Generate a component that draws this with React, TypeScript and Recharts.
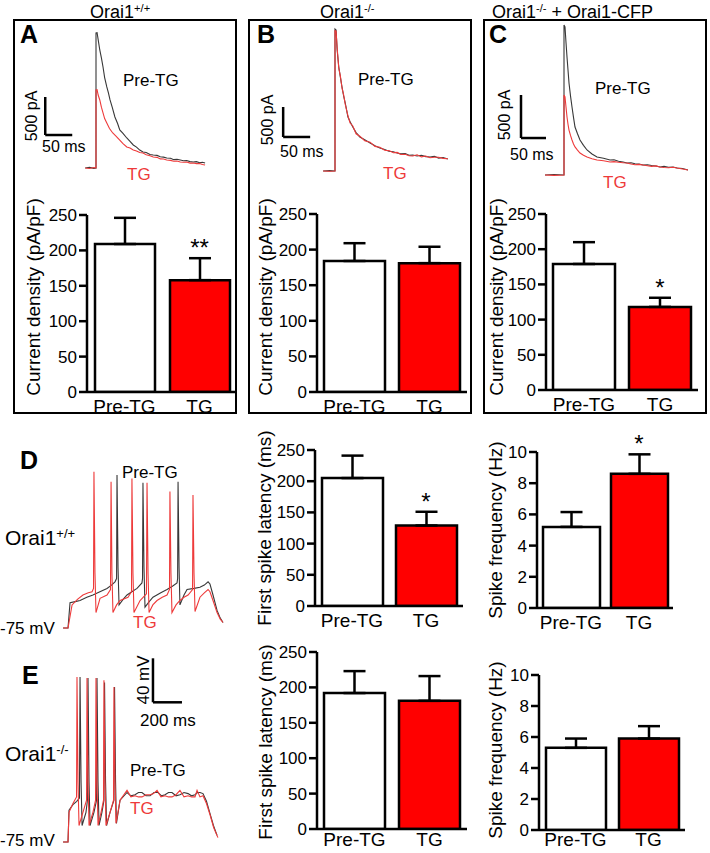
import React from 'react';
import {
  LineChart, Line, XAxis, YAxis, ReferenceLine,
  BarChart, Bar, ErrorBar, ReferenceDot, Cell,
} from 'recharts';

const FONT = 'Arial, "Liberation Sans", Helvetica, sans-serif';
const RED = '#ff0000';
const TRACE_RED = '#ee3a3a';
const TRACE_BLACK = '#383838';

// ---- bar data ----
const categories = ['Pre-TG', 'TG'];

const densityA = [209, 158];
const densityAErr = [37, 31];
const densityB = [184, 181];
const densityBErr = [25, 23];
const densityC = [179, 118];
const densityCErr = [31, 13];
const latencyD = [205, 129];
const latencyDErr = [36, 22];
const freqD = [5.2, 8.6];
const freqDErr = [0.95, 1.25];
const latencyE = [192, 181];
const latencyEErr = [31, 35];
const freqE = [5.3, 5.9];
const freqEErr = [0.6, 0.8];

const densityTicks = [0, 50, 100, 150, 200, 250];
const latencyTicks = [0, 50, 100, 150, 200, 250];
const freqTicks = [0, 2, 4, 6, 8, 10];

// ---- traces: [ms, pA] or [ms, mV] ----
type Pt = [number, number];

const traceAPre: Pt[] = [[-20,0],[-12,8],[-4,-5],[0,0],[0,1776],[2,1780],[4,1690],[7,1553],[10,1450],[13,1329],[16,1190],[20,1066],[23,990],[26,895],[30,800],[35,671],[40,585],[44,500],[50,455],[57,395],[63,350],[69,303],[75,275],[81,236],[87,211],[93,205],[100,178],[106,171],[113,166],[119,148],[125,143],[131,132],[138,128],[144,110],[150,114],[156,105],[162,96],[168,98],[174,84],[180,79],[186,84],[192,70],[197,76],[202,66]];
const traceATg: Pt[] = [[-20,0],[-12,-6],[-4,6],[0,0],[0,1026],[2,1030],[4,960],[7,895],[10,800],[13,724],[16,650],[20,592],[25,520],[31,461],[37,420],[44,368],[50,320],[57,276],[63,262],[69,237],[75,225],[81,203],[87,197],[93,175],[100,160],[106,145],[113,140],[119,120],[125,118],[131,105],[138,100],[144,88],[150,92],[156,79],[162,75],[168,78],[174,64],[180,66],[186,58],[192,60],[197,45],[202,40]];

const traceBPre: Pt[] = [[-22,0],[-10,7],[0,0],[0,2367],[2,2350],[4,2017],[7,1733],[10,1560],[13,1400],[16,1250],[19,1133],[24,900],[28,820],[33,733],[39,640],[46,567],[55,520],[65,467],[74,420],[83,383],[92,360],[100,330],[108,320],[115,300],[122,285],[130,290],[137,262],[144,267],[152,250],[160,262],[168,240],[176,233],[184,245],[192,215],[200,225],[209,200]];
const traceBTg: Pt[] = [[-22,0],[-10,-5],[0,0],[0,2340],[2,2330],[4,2050],[7,1710],[10,1580],[13,1380],[16,1270],[19,1110],[24,920],[28,800],[33,750],[39,620],[46,580],[55,505],[65,480],[74,410],[83,395],[92,345],[100,340],[108,305],[115,310],[122,275],[130,280],[137,255],[144,250],[152,270],[160,235],[168,250],[176,222],[184,230],[192,228],[200,210],[209,205]];

const traceCPre: Pt[] = [[-38,0],[-20,5],[0,0],[0,1744],[2,1721],[4,1540],[6,1372],[8,1220],[10,1070],[13,920],[16,791],[19,670],[22,558],[27,480],[32,407],[39,345],[46,291],[56,245],[66,209],[79,195],[92,174],[100,178],[109,160],[118,152],[126,140],[134,142],[142,130],[150,126],[158,116],[167,120],[175,110],[184,104],[192,93],[200,100],[209,90],[218,92],[226,81],[237,75],[248,58]];
const traceCTg: Pt[] = [[-38,0],[-20,-4],[0,0],[0,930],[2,907],[4,790],[6,674],[8,590],[10,523],[13,460],[16,407],[19,360],[22,326],[27,290],[32,256],[39,230],[46,209],[56,190],[66,174],[79,165],[92,151],[100,156],[109,148],[118,142],[126,140],[134,128],[142,120],[150,124],[158,116],[167,108],[175,100],[184,106],[192,93],[200,88],[209,85],[218,90],[226,81],[237,70],[248,58]];

const traceDPre: Pt[] = [[-34,-75],[0,-75],[14,-52],[50,-51],[83,-50],[130,-47],[172,-45],[220,-42],[269,-39],[300,-36],[324,-33],[335,-30],[338,64],[345,-20],[352,-54],[380,-49],[407,-45],[440,-42],[476,-39],[510,-34],[514,-30],[517,57],[524,-20],[531,-56],[560,-51],[586,-47],[640,-43],[683,-40],[720,-37],[752,-34],[756,-30],[759,58],[766,-20],[772,-54],[800,-45],[821,-40],[870,-39],[910,-38],[940,-36],[966,-33],[979,-35],[1000,-45],[1028,-59],[1050,-66],[1069,-70]];
const traceDTg: Pt[] = [[-34,-75],[0,-75],[28,-54],[65,-49],[103,-45],[140,-43],[166,-42],[176,-39],[179,67],[186,-25],[193,-61],[221,-48],[269,-45],[293,-40],[297,58],[303,-25],[310,-61],[335,-54],[359,-50],[414,-47],[438,-42],[441,61],[448,-25],[455,-61],[497,-50],[541,-44],[545,57],[552,-25],[559,-61],[585,-54],[614,-50],[650,-47],[683,-45],[700,-40],[703,49],[710,-25],[717,-61],[745,-54],[772,-50],[800,-47],[828,-45],[859,-40],[862,46],[869,-25],[876,-60],[910,-47],[940,-43],[966,-40],[979,-42],[1000,-50],[1028,-61],[1050,-67],[1069,-70]];

const traceEPre: Pt[] = [[-34,-75],[0,-75],[7,-46],[34,-41],[60,-38],[79,-35],[83,75],[90,-20],[97,-60],[124,-48],[134,-37],[138,74],[145,-20],[152,-60],[179,-48],[197,-37],[200,74],[207,-20],[214,-60],[234,-48],[248,-37],[252,70],[259,-20],[266,-60],[290,-48],[317,-37],[321,66],[328,-20],[334,-58],[359,-37],[407,-30],[434,-33],[462,-32],[486,-30],[510,-30],[538,-33],[566,-33],[593,-30],[621,-30],[645,-33],[669,-32],[693,-30],[717,-30],[745,-33],[772,-32],[800,-30],[828,-31],[852,-33],[876,-32],[893,-30],[910,-30],[931,-31],[955,-38],[979,-49],[1003,-60],[1028,-69]];
const traceETg: Pt[] = [[-34,-75],[0,-75],[7,-48],[34,-40],[59,-34],[62,75],[69,-20],[76,-60],[103,-48],[128,-37],[131,74],[138,-20],[145,-60],[172,-48],[190,-37],[193,74],[200,-20],[207,-60],[228,-48],[245,-37],[248,72],[255,-20],[262,-60],[290,-48],[314,-37],[317,66],[324,-20],[331,-58],[359,-37],[407,-28],[434,-34],[462,-33],[486,-34],[510,-34],[538,-32],[566,-32],[590,-31],[614,-28],[641,-34],[669,-33],[693,-34],[717,-34],[745,-32],[772,-28],[800,-34],[828,-33],[852,-34],[876,-34],[890,-28],[910,-34],[931,-33],[955,-40],[979,-50],[1005,-62],[1034,-71]];

// scale bars: start point and lengths in data units
const scaleA = { t: -94, v: 434, dt: 50, dv: 500 };
const scaleB = { t: -96, v: 567, dt: 50, dv: 500 };
const scaleC = { t: -86, v: 430, dt: 50, dv: 500 };
const scaleE = { t: 586, v: 52, dt: 200, dv: 40 };

const toPts = (arr: Pt[]) => arr.map(([t, v]) => ({ t, v }));

function Txt({ x, y, children, size = 17, color = '#000', bold = false, rotate = false }: any) {
  const style: React.CSSProperties = {
    position: 'absolute', left: x, top: y, fontSize: size, color, lineHeight: 1,
    fontWeight: bold ? 700 : 400, whiteSpace: 'nowrap', fontFamily: FONT,
    transform: rotate ? 'translate(-50%, -50%) rotate(-90deg)' : 'translateY(-50%)',
  };
  return <div style={style}>{children}</div>;
}

const Sup = ({ children }: any) => (
  <span style={{ fontSize: '0.62em', position: 'relative', top: '-0.55em' }}>{children}</span>
);

function Trace({ box, origin, scale, base = 0, pre, tg, bar }: any) {
  const [left, top, w, h] = box;
  const [x0, y0] = origin;
  const [px, py] = scale;
  const xDom = [(left - x0) / px, (left + w - x0) / px];
  const yDom = [base - (top + h - y0) / py, base + (y0 - top) / py];
  return (
    <div style={{ position: 'absolute', left, top }}>
      <LineChart width={w} height={h} margin={{ top: 0, right: 0, bottom: 0, left: 0 }}>
        <XAxis type="number" dataKey="t" domain={xDom} hide allowDataOverflow />
        <YAxis type="number" dataKey="v" domain={yDom} hide allowDataOverflow />
        <Line data={toPts(pre)} dataKey="v" type="linear" stroke={TRACE_BLACK} strokeWidth={1.1} dot={false} isAnimationActive={false} />
        <Line data={toPts(tg)} dataKey="v" type="linear" stroke={TRACE_RED} strokeWidth={1.1} dot={false} isAnimationActive={false} />
        {bar && (
          <ReferenceLine
            segment={[{ x: bar.t, y: bar.v + bar.dv }, { x: bar.t, y: bar.v }]}
            stroke="#000" strokeWidth={2.5} ifOverflow="visible"
          />
        )}
        {bar && (
          <ReferenceLine
            segment={[{ x: bar.t, y: bar.v }, { x: bar.t + bar.dt, y: bar.v }]}
            stroke="#000" strokeWidth={2.5} ifOverflow="visible"
          />
        )}
      </LineChart>
    </div>
  );
}

function BarPanel({ axisX, yTop, y0, right, max, ticks, values, errs, sig, barSize, labelGap = 6 }: any) {
  const YW = 70, MT = 30, XH = 28;
  const data = categories.map((c, i) => ({ name: c, value: values[i], err: [0, errs[i]] }));
  const width = YW + (right - axisX);
  const height = MT + (y0 - yTop) + XH;
  const axisStyle = { stroke: '#000', strokeWidth: 2.5 };
  return (
    <div style={{ position: 'absolute', left: axisX - YW, top: yTop - MT }}>
      <BarChart width={width} height={height} data={data} margin={{ top: MT, right: 0, bottom: 0, left: 0 }} barCategoryGap={0}>
        <XAxis dataKey="name" axisLine={axisStyle} tickLine={false} tickSize={labelGap} height={XH} interval={0}
          tick={{ fill: '#000', fontSize: 19, fontFamily: FONT }} />
        <YAxis width={YW} domain={[0, max]} ticks={ticks} allowDataOverflow tickSize={8}
          axisLine={axisStyle} tickLine={axisStyle}
          tick={{ fill: '#000', fontSize: 17, fontFamily: FONT }} />
        <Bar dataKey="value" barSize={barSize} stroke="#000" strokeWidth={2.5} isAnimationActive={false}>
          {data.map((_, i) => <Cell key={i} fill={i === 0 ? '#ffffff' : RED} />)}
          <ErrorBar dataKey="err" width={11} stroke="#000" strokeWidth={2.5} direction="y" />
        </Bar>
        {sig.map((s: string, i: number) => s ? (
          <ReferenceDot key={i} x={categories[i]} y={values[i] + errs[i]} r={0} ifOverflow="visible"
            label={{ value: s, position: 'top', fontSize: 24, fill: '#000', offset: 2, fontFamily: FONT }} />
        ) : null)}
      </BarChart>
    </div>
  );
}

const Box = ({ left }: any) => (
  <div style={{ position: 'absolute', left, top: 19, width: 224, height: 395, border: '2.5px solid #000', boxSizing: 'border-box' }} />
);

export default function App() {
  return (
    <div style={{ position: 'absolute', left: 0, top: 0, width: 710, height: 853, background: '#fff', fontFamily: FONT, overflow: 'hidden' }}>
      {/* titles */}
      <Txt x={90} y={12} size={18}>Orai1<Sup>+/+</Sup></Txt>
      <Txt x={320} y={12} size={18}>Orai1<Sup>-/-</Sup></Txt>
      <Txt x={492} y={12} size={18}>Orai1<Sup>-/-</Sup> + Orai1-CFP</Txt>

      <Box left={13} />
      <Box left={248} />
      <Box left={483} />

      <Txt x={20} y={34} size={25} bold>A</Txt>
      <Txt x={257} y={34} size={25} bold>B</Txt>
      <Txt x={489} y={34} size={25} bold>C</Txt>

      {/* current traces */}
      <Trace box={[25, 25, 190, 160]} origin={[96, 168]} scale={[0.54, 0.076]} pre={traceAPre} tg={traceATg} bar={scaleA} />
      <Trace box={[260, 25, 200, 160]} origin={[335, 171]} scale={[0.54, 0.06]} pre={traceBPre} tg={traceBTg} bar={scaleB} />
      <Trace box={[495, 20, 200, 165]} origin={[564, 175]} scale={[0.5, 0.086]} pre={traceCPre} tg={traceCTg} bar={scaleC} />

      <Txt x={123} y={80}>Pre-TG</Txt>
      <Txt x={127} y={174} color={TRACE_RED}>TG</Txt>
      <Txt x={32} y={116} size={16} rotate>500 pA</Txt>
      <Txt x={42} y={147} size={16}>50 ms</Txt>

      <Txt x={358} y={79}>Pre-TG</Txt>
      <Txt x={383} y={173} color={TRACE_RED}>TG</Txt>
      <Txt x={268} y={120} size={16} rotate>500 pA</Txt>
      <Txt x={280} y={152} size={16}>50 ms</Txt>

      <Txt x={595} y={88}>Pre-TG</Txt>
      <Txt x={603} y={182} color={TRACE_RED}>TG</Txt>
      <Txt x={505} y={115} size={16} rotate>500 pA</Txt>
      <Txt x={510} y={155} size={16}>50 ms</Txt>

      {/* current density bars */}
      <BarPanel axisX={87} yTop={215} y0={392} right={237} max={250} ticks={densityTicks} values={densityA} errs={densityAErr} sig={['', '**']} barSize={60} />
      <BarPanel axisX={317} yTop={214} y0={392} right={467} max={250} ticks={densityTicks} values={densityB} errs={densityBErr} sig={['', '']} barSize={61} />
      <BarPanel axisX={546} yTop={214} y0={390} right={698} max={250} ticks={densityTicks} values={densityC} errs={densityCErr} sig={['', '*']} barSize={62} />
      <Txt x={33} y={297} size={19} rotate>Current density (pA/pF)</Txt>
      <Txt x={265} y={297} size={19} rotate>Current density (pA/pF)</Txt>
      <Txt x={496} y={297} size={19} rotate>Current density (pA/pF)</Txt>

      {/* row D */}
      <Txt x={20} y={460} size={25} bold>D</Txt>
      <Txt x={5} y={537} size={21}>Orai1<Sup>+/+</Sup></Txt>
      <Txt x={0} y={628} size={17}>-75 mV</Txt>
      <Trace box={[55, 455, 175, 180]} origin={[68, 628]} scale={[0.145, 1.1]} base={-75} pre={traceDPre} tg={traceDTg} />
      <Txt x={122} y={472}>Pre-TG</Txt>
      <Txt x={133} y={622} color={TRACE_RED}>TG</Txt>
      <BarPanel axisX={315} yTop={450} y0={606} right={463} max={250} ticks={latencyTicks} values={latencyD} errs={latencyDErr} sig={['', '*']} barSize={61} />
      <BarPanel axisX={537} yTop={452} y0={608} right={673} max={10} ticks={freqTicks} values={freqD} errs={freqDErr} sig={['', '*']} barSize={57} />
      <Txt x={264} y={528} size={19} rotate>First spike latency (ms)</Txt>
      <Txt x={495} y={530} size={19} rotate>Spike frequency (Hz)</Txt>

      {/* row E */}
      <Txt x={22} y={675} size={25} bold>E</Txt>
      <Txt x={5} y={753} size={21}>Orai1<Sup>-/-</Sup></Txt>
      <Txt x={0} y={840} size={17}>-75 mV</Txt>
      <Trace box={[55, 645, 175, 208]} origin={[68, 842]} scale={[0.145, 1.1]} base={-75} pre={traceEPre} tg={traceETg} bar={scaleE} />
      <Txt x={143} y={680} size={17} rotate>40 mV</Txt>
      <Txt x={140} y={720} size={17}>200 ms</Txt>
      <Txt x={130} y={770}>Pre-TG</Txt>
      <Txt x={130} y={808} color={TRACE_RED}>TG</Txt>
      <BarPanel axisX={317} yTop={652} y0={829} right={467} max={250} ticks={latencyTicks} values={latencyE} errs={latencyEErr} sig={['', '']} barSize={61} labelGap={2} />
      <BarPanel axisX={539} yTop={675} y0={830} right={685} max={10} ticks={freqTicks} values={freqE} errs={freqEErr} sig={['', '']} barSize={60} labelGap={1} />
      <Txt x={265} y={742} size={19} rotate>First spike latency (ms)</Txt>
      <Txt x={495} y={750} size={19} rotate>Spike frequency (Hz)</Txt>
    </div>
  );
}
